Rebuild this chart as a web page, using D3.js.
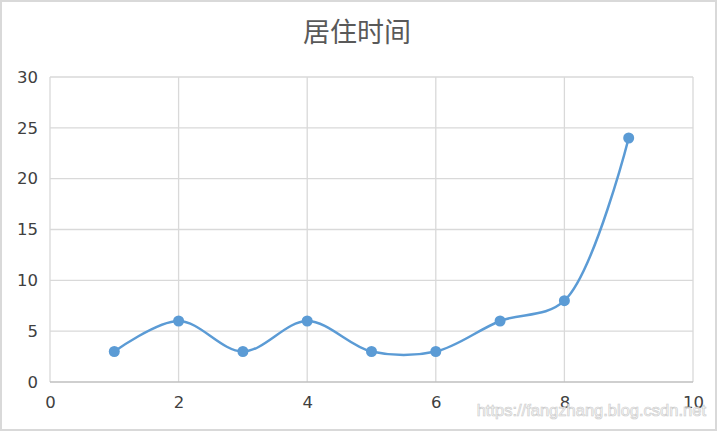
<!DOCTYPE html>
<html>
<head>
<meta charset="utf-8">
<script src="https://cdn.jsdelivr.net/npm/d3@7"></script>
<style>
  body { margin: 0; background: #fff; }
  svg { display: block; }
</style>
</head>
<body>
<div id="container"></div>
<script>
let w = 718;
let h = 432;

// data
let xValues = [1, 2, 3, 4, 5, 6, 7, 8, 9];
let yValues = [3, 6, 3, 6, 3, 3, 6, 8, 24];
let xTicks = [0, 2, 4, 6, 8, 10];
let yTicks = [0, 5, 10, 15, 20, 25, 30];
let title = "居住时间";
let watermark = "https://fangzhang.blog.csdn.net";

let points = xValues.map(function(x, i){ return {x: x, y: yValues[i]}; });

let viz = d3.select("#container")
  .append("svg")
    .attr("width", w)
    .attr("height", h)
;

// outer chart border
viz.append("rect")
  .attr("x", 1).attr("y", 1)
  .attr("width", w - 3).attr("height", h - 3)
  .attr("fill", "#fff")
  .attr("stroke", "#d9d9d9")
  .attr("stroke-width", 2);

let xScale = d3.scaleLinear().domain([0, 10]).range([50, 693]);
let yScale = d3.scaleLinear().domain([0, 30]).range([382, 77]);

// grid
let grid = viz.append("g").classed("grid", true);
grid.selectAll(".vgrid").data(xTicks).enter().append("line")
  .attr("x1", d => xScale(d)).attr("x2", d => xScale(d))
  .attr("y1", yScale(30)).attr("y2", yScale(0))
  .attr("stroke", "#d9d9d9").attr("stroke-width", 1.3);
grid.selectAll(".hgrid").data(yTicks).enter().append("line")
  .attr("x1", xScale(0)).attr("x2", xScale(10))
  .attr("y1", d => yScale(d)).attr("y2", d => yScale(d))
  .attr("stroke", d => d == 0 ? "#bfbfbf" : "#d9d9d9").attr("stroke-width", 1.3);

// axes (labels only)
let xAxis = d3.axisBottom(xScale).tickValues(xTicks).tickSize(0).tickPadding(14);
let xAxisGroup = viz.append("g").attr("transform", "translate(0," + yScale(0) + ")").call(xAxis);
xAxisGroup.select(".domain").remove();
xAxisGroup.selectAll("text")
  .attr("font-family", "DejaVu Sans, Verdana, sans-serif")
  .attr("font-size", 16.5).attr("fill", "#404040");

let yAxis = d3.axisLeft(yScale).tickValues(yTicks).tickSize(0).tickPadding(12);
let yAxisGroup = viz.append("g").attr("transform", "translate(" + xScale(0) + ",0)").call(yAxis);
yAxisGroup.select(".domain").remove();
yAxisGroup.selectAll("text")
  .attr("font-family", "DejaVu Sans, Verdana, sans-serif")
  .attr("font-size", 16.5).attr("fill", "#404040");

// title
viz.append("text")
  .attr("x", 357).attr("y", 42)
  .attr("text-anchor", "middle")
  .attr("font-family", "Noto Sans CJK SC, sans-serif")
  .attr("font-size", 27)
  .attr("fill", "#595959")
  .text(title);

// smooth line
let line = d3.line()
  .x(d => xScale(d.x))
  .y(d => yScale(d.y))
  .curve(d3.curveCatmullRom.alpha(0.5));

viz.append("path")
  .datum(points)
  .attr("d", line)
  .attr("fill", "none")
  .attr("stroke", "#5b9bd5")
  .attr("stroke-width", 2.5);

viz.selectAll(".dot").data(points).enter().append("circle")
  .attr("cx", d => xScale(d.x))
  .attr("cy", d => yScale(d.y))
  .attr("r", 5.5)
  .attr("fill", "#5b9bd5");

// watermark
viz.append("text")
  .attr("x", 706).attr("y", 416)
  .attr("text-anchor", "end")
  .attr("font-family", "Liberation Sans, Arial, sans-serif")
  .attr("font-size", 16.5)
  .attr("fill", "#ffffff")
  .attr("stroke", "#c8c8c8")
  .attr("stroke-width", 0.7)
  .attr("opacity", 0.9)
  .text(watermark);
</script>
</body>
</html>
